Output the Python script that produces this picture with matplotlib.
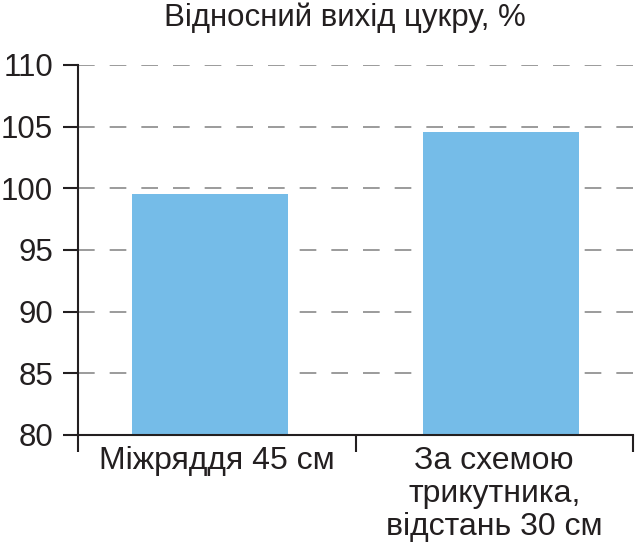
import matplotlib.pyplot as plt

categories = ["Міжряддя 45 см", "За схемою\nтрикутника,\nвідстань 30 см"]
values = [99.5, 104.6]
yticks = [80, 85, 90, 95, 100, 105, 110]
title = "Відносний вихід цукру, %"

plt.rcParams['font.family'] = ['Liberation Sans', 'DejaVu Sans']
text_color = '#231f20'

fig = plt.figure(figsize=(6.37, 5.5), dpi=100)
ax = fig.add_axes([78 / 637, 1 - 435 / 550, (633 - 78) / 637, (435 - 65) / 550])

x = [0, 1]
ax.bar([0 - 0.025, 1 + 0.025], values, width=0.56, color='#75bce8', zorder=2, bottom=0)

ax.set_ylim(80, 110)
ax.set_xlim(-0.5, 1.5)
ax.set_yticks(yticks)
ax.set_yticklabels([str(v) for v in yticks], fontsize=22.5, color=text_color)
ax.tick_params(axis='y', length=11, width=1.5, pad=7, color=text_color)

# category labels centred, separator ticks at boundaries
ax.set_xticks(x)
ax.set_xticklabels(categories, fontsize=23, color=text_color, linespacing=1.12, va='top')
ax.tick_params(axis='x', which='major', length=0, pad=8)
ax.set_xticks([-0.5, 0.5, 1.5], minor=True)
ax.tick_params(axis='x', which='minor', length=12, width=1.5, color=text_color)

for v in yticks[1:]:
    ax.axhline(v, color='#8a8a8a', lw=1.2, dashes=(10, 9), zorder=1)

for s in ['top', 'right']:
    ax.spines[s].set_visible(False)
for s in ['left', 'bottom']:
    ax.spines[s].set_linewidth(1.5)
    ax.spines[s].set_color(text_color)
ax.spines['bottom'].set_zorder(3)

fig.text(345 / 637, 1 - 18 / 550, title, fontsize=22.5, color=text_color, ha='center', va='center')

plt.savefig("out.png", dpi=100)
